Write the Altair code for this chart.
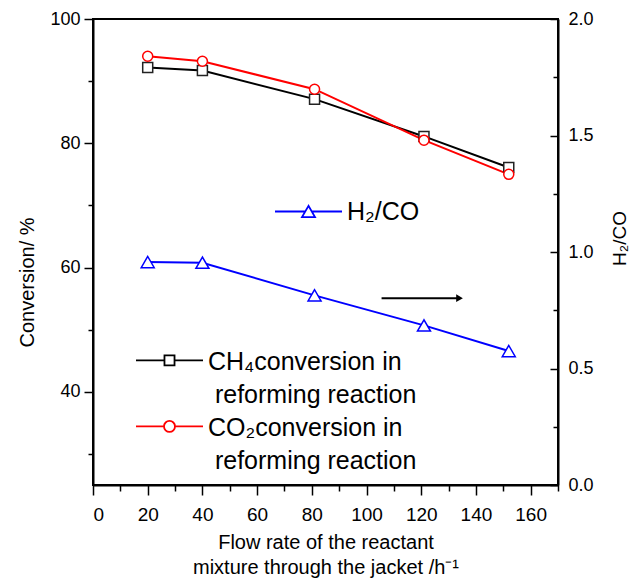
import altair as alt
import pandas as pd

# ---- data ----
flow = [20, 40, 81, 121, 152]
ch4_conv = [92.2, 91.7, 87.1, 81.1, 76.1]
co2_conv = [94.0, 93.2, 88.7, 80.5, 75.0]
h2_co = [0.957, 0.954, 0.814, 0.685, 0.575]

ch4_name = "CH4"
co2_name = "CO2"
h2_name = "H\u2082/CO"
ch4_legend = ["CH\u2084conversion in", "\u200b\u00a0reforming reaction"]
co2_legend = ["CO\u2082conversion in", "\u200b\u00a0reforming reaction"]

arrow_x = [105.5, 134.0]
arrow_y = [0.802, 0.802]

x_title = ["Flow rate of the reactant", "mixture through the jacket /h\u207b\u00b9"]
left_title = "Conversion/ %"
right_title = "H\u2082/CO"

x_ticks = list(range(0, 171, 10))
left_ticks = list(range(30, 101, 10))
right_major = [0.0, 0.5, 1.0, 1.5, 2.0]
right_all = [0.0, 0.25, 0.5, 0.75, 1.0, 1.25, 1.5, 1.75, 2.0]

# ---- tables ----
ch4 = pd.DataFrame({"flow": flow, "value": ch4_conv, "series": [ch4_name] * len(flow)})
co2 = pd.DataFrame({"flow": flow, "value": co2_conv, "series": [co2_name] * len(flow)})
conv = pd.concat([ch4, co2], ignore_index=True)
h2 = pd.DataFrame({"flow": flow, "h2": h2_co, "s2": [h2_name] * len(flow)})
arrow = pd.DataFrame({"flow": arrow_x, "ay": arrow_y})
arrow_head = pd.DataFrame({"flow": [arrow_x[-1]], "ay": [arrow_y[-1]]})

W, H = 465, 466
FONT = "Liberation Sans"

x_enc = alt.X(
    "flow:Q",
    scale=alt.Scale(domain=[0, 170], nice=False, zero=False),
    axis=alt.Axis(
        values=x_ticks,
        labelExpr="datum.value % 20 === 0 ? datum.label : ''",
        tickSize={"condition": {"test": "datum.value % 20 === 0", "value": 10}, "value": 6},
        title=x_title,
        labelFontSize=19,
        labelPadding=10,
        titlePadding=8,
        titleFontSize=20,
        titleLineHeight=25,
    ),
)

left_scale = alt.Scale(domain=[25, 100], nice=False, zero=False)
right_scale = alt.Scale(domain=[0, 2], nice=False, zero=False)

# legend symbols: line + marker, drawn 24 px above the symbol box centre
sq_path = "M-1,-0.72H-0.15M0.15,-0.72H1M-0.15,-0.87H0.15V-0.57H-0.15Z"
ci_path = ("M-1,-0.72H-0.164M0.164,-0.72H1M0.164,-0.72A0.164,0.164,0,1,1,-0.164,-0.72"
           "A0.164,0.164,0,1,1,0.164,-0.72Z")
tr_path = "M-1,0H-0.1M0.1,0H1M0,-0.168L-0.194,0.168L0.194,0.168Z"


def text_legend(x, y, path, lines):
    return alt.Legend(
        orient="none",
        legendX=x,
        legendY=y,
        title=lines,
        titleOrient="right",
        titleFont=FONT,
        titleFontSize=25,
        titleFontWeight="normal",
        titleColor="black",
        titleLineHeight=33,
        titlePadding=1,
        titleAnchor="start",
        titleBaseline="top",
        titleLimit=0,
        labelExpr="''",
        labelOffset=0,
        symbolType=path,
        symbolSize=4489,
        symbolFillColor="white",
        symbolStrokeWidth=1.8,
        padding=0,
    )


left_axis = alt.Axis(
    orient="left",
    values=left_ticks,
    labelExpr="datum.value % 20 === 0 ? datum.label : ''",
    tickSize={"condition": {"test": "datum.value % 20 === 0", "value": 9}, "value": 5},
    title=left_title,
    titleAngle=270,
    titleX=-66,
    titleY=263,
    titleBaseline="middle",
    titleAlign="center",
    labelPadding=4,
)

ch4_line = alt.Chart(ch4).mark_line(strokeWidth=2).encode(
    x=x_enc,
    y=alt.Y("value:Q", scale=left_scale, axis=left_axis),
    color=alt.Color(
        "series:N",
        scale=alt.Scale(domain=[ch4_name], range=["black"]),
        legend=text_legend(42, 331, sq_path, ch4_legend),
    ),
)

co2_line = alt.Chart(co2).mark_line(strokeWidth=2).encode(
    x=x_enc,
    y=alt.Y("value:Q", scale=left_scale, axis=left_axis),
    color=alt.Color(
        "series:N",
        scale=alt.Scale(domain=[co2_name], range=["red"]),
        legend=text_legend(42, 397, ci_path, co2_legend),
    ),
)

conv_points = alt.Chart(conv).mark_point(
    size=100, fill="white", fillOpacity=1, strokeWidth=1.5, opacity=1
).encode(
    x=x_enc,
    y=alt.Y("value:Q", scale=left_scale, axis=left_axis),
    shape=alt.Shape("series:N", scale=alt.Scale(domain=[ch4_name, co2_name], range=["square", "circle"]), legend=None),
    stroke=alt.Stroke("series:N", scale=alt.Scale(domain=[ch4_name, co2_name], range=["#222222", "red"]), legend=None),
)

left_layer = alt.layer(ch4_line, co2_line, conv_points).resolve_scale(color="independent")

h2_line = alt.Chart(h2).mark_line(strokeWidth=2).encode(
    x=x_enc,
    y=alt.Y(
        "h2:Q",
        scale=right_scale,
        axis=alt.Axis(
            orient="right",
            values=right_major,
            format=".1f",
            ticks=False,
            labelPadding=10,
            title=right_title,
            titleFontSize=19,
            titleAngle=270,
            titleX=61,
            titleY=219,
            titleBaseline="middle",
            titleAlign="center",
        ),
    ),
    color=alt.Color(
        "s2:N",
        scale=alt.Scale(domain=[h2_name], range=["blue"]),
        legend=alt.Legend(
            orient="none",
            legendX=181,
            legendY=158,
            title=None,
            symbolType=tr_path,
            symbolSize=4489,
            symbolFillColor="white",
            symbolStrokeWidth=1.8,
            labelOffset=4,
            labelFontSize=25,
            padding=0,
            labelLimit=0,
        ),
    ),
)

h2_points = alt.Chart(h2).mark_point(
    shape="triangle-up", size=169, fill="white", fillOpacity=1,
    stroke="blue", strokeWidth=1.5, opacity=1
).encode(
    x=x_enc,
    y=alt.Y("h2:Q", scale=right_scale, axis=None),
)

arrow_line = alt.Chart(arrow).mark_line(color="black", strokeWidth=2).encode(
    x=x_enc,
    y=alt.Y(
        "ay:Q",
        scale=right_scale,
        axis=alt.Axis(
            orient="left",
            offset=-W,
            values=right_all,
            labels=False,
            domain=False,
            grid=False,
            title=None,
            tickSize={"condition": {"test": "datum.value * 2 % 1 === 0", "value": 8}, "value": 5},
        ),
    ),
)

arrow_tip = alt.Chart(arrow_head).mark_point(
    shape="triangle-right", size=60, filled=True, color="black", opacity=1
).encode(
    x=x_enc,
    y=alt.Y("ay:Q", scale=right_scale, axis=None),
)

right_layer = alt.layer(h2_line, h2_points, arrow_line, arrow_tip).resolve_axis(y="independent")

chart = (
    alt.layer(left_layer, right_layer)
    .resolve_scale(y="independent", color="independent", stroke="independent", shape="independent")
    .properties(
        width=W,
        height=H,
        autosize=alt.AutoSizeParams(type="none"),
        padding={"left": 93, "top": 19, "right": 72, "bottom": 94},
        background="white",
    )
    .configure_view(stroke="black", strokeWidth=2)
    .configure_axis(
        grid=False,
        domainColor="black",
        domainWidth=2,
        tickColor="black",
        tickWidth=1.5,
        labelFont=FONT,
        labelFontSize=18,
        labelColor="black",
        titleFont=FONT,
        titleFontSize=20,
        titleFontWeight="normal",
        titleColor="black",
    )
    .configure_legend(
        labelFont=FONT,
        labelFontSize=25,
        labelColor="black",
    )
)

chart.save("out.html", embed_options={"renderer": "svg", "actions": False})
